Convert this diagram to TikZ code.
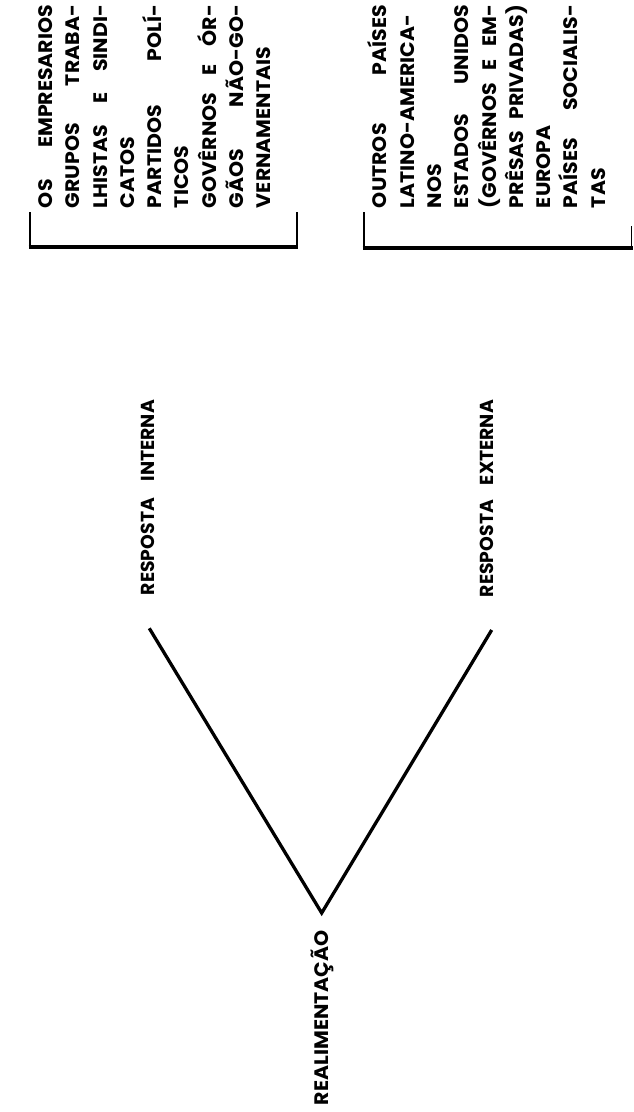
\documentclass[tikz,border=0pt]{standalone}
\usepackage{fontspec}
\setmainfont{Poppins}
\newfontfamily\blockfont{Poppins}[FakeStretch=1.05]
\newcommand\fullline[1]{\makebox[203pt][s]{#1}}
\tikzset{
  txt/.style={rotate=90, anchor=base west, inner sep=0pt, outer sep=0pt,
    font=\blockfont\fontsize{19.5}{23}\selectfont\bfseries},
  lbl/.style={rotate=90, anchor=base west, inner sep=0pt, outer sep=0pt,
    font=\fontsize{18.8}{23}\selectfont\bfseries},
  vline/.style={line width=3.3pt, line join=miter, line cap=butt},
  brkh/.style={line width=4.2pt, line cap=butt},
  brkv/.style={line width=2.6pt, line cap=butt},
}
\begin{document}
\begin{tikzpicture}[x=1pt,y=1pt]
\useasboundingbox (0,0) rectangle (633,-1112);
\fill[white] (0,0) rectangle (633,-1112);
% block 1
\node[txt] (a1) at (52.4,-208) {\fullline{OS EMPRESARIOS}};
\node[txt] (a2) at (79.7,-208) {\fullline{GRUPOS TRABA-}};
\node[txt] (a3) at (107.0,-208) {\fullline{LHISTAS E SINDI-}};
\node[txt] (a4) at (134.3,-208) {CATOS};
\node[txt] (a5) at (161.6,-208) {\fullline{PARTIDOS POLÍ-}};
\node[txt] (a6) at (188.9,-208) {TICOS};
\node[txt] (a7) at (216.2,-208) {\fullline{GOVÊRNOS E ÓR-}};
\node[txt] (a8) at (243.5,-208) {\fullline{GÃOS NÃO-GO-}};
\node[txt] (a9) at (270.8,-208) {VERNAMENTAIS};
% block 2
\node[txt] (b1) at (386.8,-208) {\fullline{OUTROS PAÍSES}};
\node[txt] (b2) at (414.1,-208) {LATINO-AMERICA-};
\node[txt] (b3) at (441.4,-208) {NOS};
\node[txt] (b4) at (468.7,-208) {\fullline{ESTADOS UNIDOS}};
\node[txt] (b5) at (496.0,-208) {\fullline{(GOVÊRNOS E EM-}};
\node[txt] (b6) at (523.3,-208) {\fullline{PRÊSAS PRIVADAS)}};
\node[txt] (b7) at (550.6,-208) {EUROPA};
\node[txt] (b8) at (577.9,-208) {\fullline{PAÍSES SOCIALIS-}};
\node[txt] (b9) at (605.2,-208) {TAS};
% brackets
\coordinate (k1a) at (30,-212);
\coordinate (k1b) at (30,-247);
\coordinate (k1c) at (297,-247);
\coordinate (k1d) at (297,-212);
\draw[brkv] (k1a) -- (k1b);
\draw[brkh] ([xshift=-1.3pt]k1b) -- ([xshift=1.3pt]k1c);
\draw[brkv] (k1c) -- (k1d);
\coordinate (k2a) at (364,-212);
\coordinate (k2b) at (364,-248);
\coordinate (k2c) at (633,-248);
\coordinate (k2d) at (631.5,-226);
\draw[brkv] (k2a) -- (k2b);
\draw[brkh] ([xshift=-1.3pt]k2b) -- (k2c);
\draw[line width=1.5pt] (k2d) -- (631.5,-248);
% labels
\node[lbl] (ri) at (154.3,-595) {\makebox[195pt][s]{RESPOSTA INTERNA}};
\node[lbl] (re) at (493.8,-597) {\makebox[197pt][s]{RESPOSTA EXTERNA}};
\node[txt] (rl) at (328.3,-1105) {REALIMENTAÇÃO};
% V
\coordinate (li) at (149.3,-628.3);
\coordinate (v) at (321.7,-913);
\coordinate (lr) at (491.7,-630);
\draw[vline] (li) -- (v) -- (lr);
\end{tikzpicture}
\end{document}
